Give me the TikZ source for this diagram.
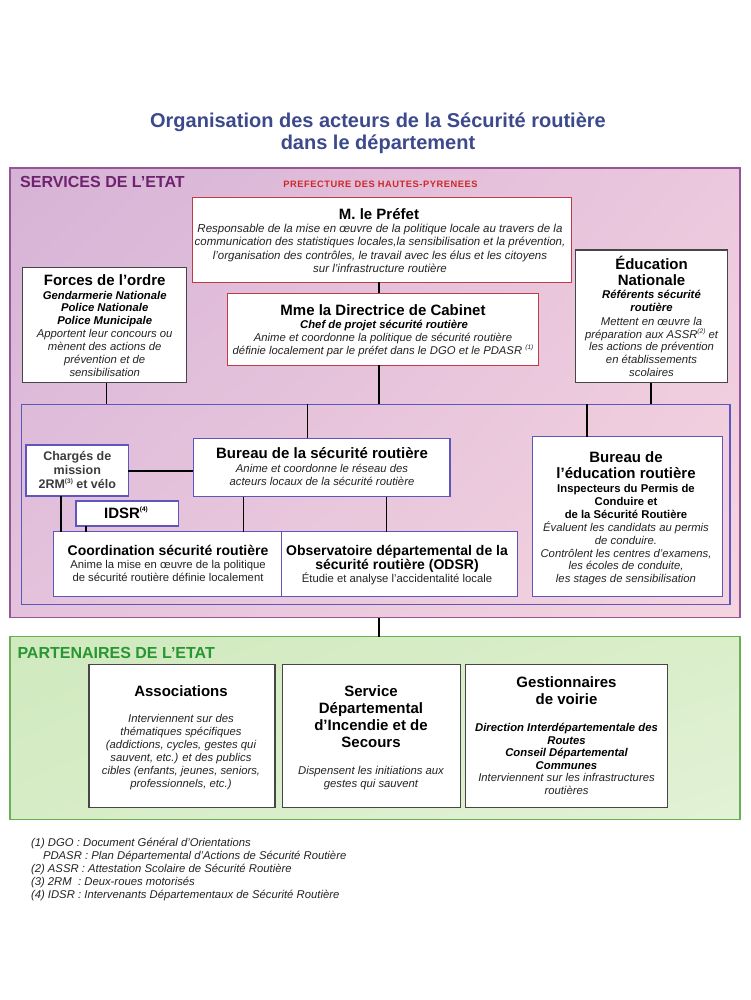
\documentclass[tikz,border=0pt]{standalone}
\usepackage{fontspec}
\usetikzlibrary{shadings}
\setmainfont{Liberation Sans}
\definecolor{titleblue}{RGB}{60,74,140}
\definecolor{servtxt}{RGB}{110,35,110}
\definecolor{servborder}{RGB}{150,85,150}
\definecolor{prefred}{RGB}{205,40,40}
\definecolor{redborder}{RGB}{190,60,70}
\definecolor{grayborder}{RGB}{70,70,70}
\definecolor{blueborder}{RGB}{95,85,190}
\definecolor{parttxt}{RGB}{40,150,50}
\definecolor{partborder}{RGB}{105,175,85}
\definecolor{tg}{RGB}{35,35,35}
\definecolor{dg}{RGB}{60,60,60}
\definecolor{sUL}{RGB}{214,178,214}
\definecolor{sUR}{RGB}{236,200,222}
\definecolor{sLL}{RGB}{228,194,220}
\definecolor{sLR}{RGB}{245,212,222}
\definecolor{pUL}{RGB}{208,233,190}
\definecolor{pUR}{RGB}{218,238,202}
\definecolor{pLL}{RGB}{214,236,198}
\definecolor{pLR}{RGB}{226,242,214}
\newcommand\fixls{\lineskiplimit=-1000pt\lineskip=0pt\relax}
\newcommand\fH[1]{\fontsize{15}{#1}\selectfont\bfseries\fixls}
\newcommand\fI[2]{\fontsize{#1}{#2}\selectfont\itshape\fixls}
\newcommand\fBI[2]{\fontsize{#1}{#2}\selectfont\bfseries\itshape\fixls}
\newcommand\fR[2]{\fontsize{#1}{#2}\selectfont\fixls}
\newcommand\fB[2]{\fontsize{#1}{#2}\selectfont\bfseries\fixls}
\newcommand\sups[1]{\raisebox{0.45em}{\fontsize{6.5}{6.5}\selectfont #1}}
\newcommand\tx[6][]{\node[txt,font={#5},#1] (#2) at (#3,{#4-20}) {\rule{0pt}{20pt}#6};}
\newcommand\bx[6]{\node[#2, minimum width={(#5)-(#3)}, minimum height={(#6)-(#4)}] (#1) at ({((#3)+(#5))/2},{((#4)+(#6))/2}) {};}
\begin{document}
\begin{tikzpicture}[x=1pt,y=-1pt,
  txt/.style={anchor=north, inner sep=0pt, outer sep=0pt, align=center, text=black},
  boxbase/.style={rectangle, inner sep=0pt, outer sep=0pt},
  servbox/.style={boxbase, draw=servborder, line width=1.3pt, shading=bilinear interpolation,
     upper left=sUL, upper right=sUR, lower left=sLL, lower right=sLR},
  partbox/.style={boxbase, draw=partborder, line width=1.3pt, shading=bilinear interpolation,
     upper left=pUL, upper right=pUR, lower left=pLL, lower right=pLR},
  redbox/.style={boxbase, draw=redborder, line width=1pt, fill=white},
  graybox/.style={boxbase, draw=grayborder, line width=1.2pt, fill=white},
  bluebox/.style={boxbase, draw=blueborder, line width=1.2pt, fill=white},
  blueframe/.style={boxbase, draw=blueborder, line width=1.3pt},
  conn/.style={draw=black, line width=1.5pt},
]
\useasboundingbox (0,0) rectangle (751,1000);
\fill[white] (0,0) rectangle (751,1000);

% title
\tx[text=titleblue]{title}{378}{127.3}{\fB{20}{22}}{Organisation des acteurs de la Sécurité routière\\dans le département}

% big frames
\bx{serv}{servbox}{10}{168}{740}{617.7}
\bx{part}{partbox}{10}{636.5}{740}{819.3}
\bx{ddt}{blueframe}{21.7}{404.3}{730}{604.3}

\node[anchor=base west, inner sep=0pt, font=\fB{16}{18}, text=servtxt] (servlbl) at (20,188) {SERVICES DE L’ETAT};
\node[anchor=base, inner sep=0pt, font={\fontsize{9.3}{10}\selectfont\bfseries\addfontfeatures{LetterSpace=6}}, text=prefred] (preflbl) at (380.5,188) {PREFECTURE DES HAUTES-PYRENEES};
\node[anchor=base west, inner sep=0pt, font=\fB{16}{18}, text=parttxt] (partlbl) at (17.3,658.3) {PARTENAIRES DE L’ETAT};

% boxes
\bx{prefet}{redbox}{192.7}{197.3}{571.7}{282.3}
\bx{forces}{graybox}{22.7}{267.7}{186.7}{382.7}
\bx{dircab}{redbox}{227.3}{293.3}{538.3}{365}
\bx{educ}{graybox}{575.7}{250}{727.3}{382.7}
\bx{charges}{bluebox}{26}{445}{128.3}{496}
\bx{bsr}{bluebox}{193.3}{438.3}{450}{496.7}
\bx{idsr}{bluebox}{76}{501}{178.3}{526}
\bx{coord}{bluebox}{53.3}{531.7}{281.7}{596.7}
\bx{odsr}{bluebox}{281.7}{531.7}{517.3}{596.5}
\bx{ber}{bluebox}{532.3}{436.7}{722.7}{596.7}
\bx{assoc}{graybox}{89}{664.3}{275}{807.7}
\bx{sdis}{graybox}{282.7}{664.3}{460.7}{807.7}
\bx{gest}{graybox}{465.7}{664.3}{667.7}{807.5}

% connectors
\coordinate (xmain) at (379,0);
\coordinate (xforces) at (106.7,0);
\coordinate (xeduc) at (651,0);
\coordinate (xbsr) at (307.3,0);
\coordinate (xber) at (587,0);
\coordinate (ychg) at (0,471);
\coordinate (xchg) at (61,0);
\coordinate (xidsr) at (86,0);
\coordinate (xbsrA) at (243.3,0);
\coordinate (xbsrB) at (386.7,0);
\draw[conn] (prefet.south -| xmain) -- (dircab.north -| xmain);
\draw[conn] (dircab.south -| xmain) -- (ddt.north -| xmain);
\draw[conn] (forces.south -| xforces) -- (ddt.north -| xforces);
\draw[conn] (educ.south -| xeduc) -- (ddt.north -| xeduc);
\draw[conn] (ddt.north -| xbsr) -- (bsr.north -| xbsr);
\draw[conn] (ddt.north -| xber) -- (ber.north -| xber);
\draw[conn, line width=1.2pt] (charges.east |- ychg) -- (bsr.west |- ychg);
\draw[conn] (charges.south -| xchg) -- (coord.north -| xchg);
\draw[conn] (idsr.south -| xidsr) -- (coord.north -| xidsr);
\draw[conn] (bsr.south -| xbsrA) -- (coord.north -| xbsrA);
\draw[conn] (bsr.south -| xbsrB) -- (odsr.north -| xbsrB);
\draw[conn] (serv.south -| xmain) -- (part.north -| xmain);

% texts: Prefet
\tx{prefT}{379}{220}{\fH{16}}{M. le Préfet}
\tx[text=tg]{prefI}{380}{232.5}{\fI{11.5}{13.3}}{Responsable de la mise en œuvre de la politique locale au travers de la\\communication des statistiques locales,la sensibilisation et la prévention,\\l’organisation des contrôles, le travail avec les élus et les citoyens\\sur l’infrastructure routière}

% Forces
\tx{forT}{104.7}{285.5}{\fH{16}}{Forces de l’ordre}
\tx{forB}{104.7}{299.3}{\fBI{11.3}{12.6}}{Gendarmerie Nationale\\Police Nationale\\Police Municipale}
\tx[text=tg]{forI}{104.7}{337.3}{\fI{11.3}{13}}{Apportent leur concours ou\\mènent des actions de\\prévention et de\\sensibilisation}

% Directrice
\tx{dirT}{383}{315}{\fH{16}}{Mme la Directrice de Cabinet}
\tx{dirB}{384}{328}{\fBI{11.3}{12}}{Chef de projet sécurité routière}
\tx[text=tg]{dirI}{383}{341.3}{\fI{11.3}{13.3}}{Anime et coordonne la politique de sécurité routière\\définie localement par le préfet dans le DGO et le PDASR \sups{(1)}}

% Education nationale
\tx{eduT}{651.5}{269}{\fH{16.5}}{Éducation\\Nationale}
\tx{eduB}{651.5}{298.3}{\fBI{11.3}{12.7}}{Référents sécurité\\routière}
\tx[text=tg]{eduI}{651.5}{325.3}{\fI{11.3}{12.8}}{Mettent en œuvre la\\préparation aux ASSR\sups{(2)} et\\les actions de prévention\\en établissements\\scolaires}

% Charges de mission
\tx[text=dg]{chgT}{77.3}{460.5}{\fB{12.5}{14.2}}{Chargés de\\mission\\2RM\sups{(3)} et vélo}

% Bureau securite routiere
\tx{bsrT}{322}{458.3}{\fH{16}}{Bureau de la sécurité routière}
\tx[text=tg]{bsrI}{322}{472.5}{\fI{11.3}{12.8}}{Anime et coordonne le réseau des\\acteurs locaux de la sécurité routière}

% IDSR
\tx{idsrT}{126}{518.3}{\fH{16}}{IDSR\sups{(4)}}

% Coordination
\tx{coT}{168}{555.5}{\fB{14}{15}}{Coordination sécurité routière}
\tx[text=tg]{coR}{168}{568.2}{\fR{11.3}{13.4}}{Anime la mise en œuvre de la politique\\de sécurité routière définie localement}

% Observatoire
\tx{obT}{397}{555.5}{\fB{14}{14}}{Observatoire départemental de la\\sécurité routière (ODSR)}
\tx[text=tg]{obR}{397}{582.3}{\fR{11.3}{12}}{Étudie et analyse l’accidentalité locale}

% Bureau education routiere
\tx{berT}{626}{462.5}{\fH{16.3}}{Bureau de\\l’éducation routière}
\tx{berB}{626}{492.5}{\fB{11.3}{13}}{Inspecteurs du Permis de\\Conduire et\\de la Sécurité Routière}
\tx[text=tg]{berI}{626}{531.5}{\fI{11.3}{12.8}}{Évaluent les candidats au permis\\de conduire.\\Contrôlent les centres d’examens,\\les écoles de conduite,\\les stages de sensibilisation}

% Associations
\tx{asT}{181}{696.7}{\fH{16}}{Associations}
\tx[text=tg]{asI}{181}{722.5}{\fI{11.3}{13}}{Interviennent sur des\\thématiques spécifiques\\(addictions, cycles, gestes qui\\sauvent, etc.) et des publics\\cibles (enfants, jeunes, seniors,\\professionnels, etc.)}

% SDIS
\tx{sdT}{371}{696.7}{\fH{16.9}}{Service\\Départemental\\d’Incendie et de\\Secours}
\tx[text=tg]{sdI}{371}{774.3}{\fI{11.3}{13}}{Dispensent les initiations aux\\gestes qui sauvent}

% Gestionnaires
\tx{geT}{566.5}{687.8}{\fH{16.7}}{Gestionnaires\\de voirie}
\tx{geB}{566.5}{731.9}{\fBI{11.3}{12.4}}{Direction Interdépartementale des\\Routes\\Conseil Départemental\\Communes}
\tx[text=tg]{geI}{566.5}{781.2}{\fI{11.3}{13.3}}{Interviennent sur les infrastructures\\routières}

% footnotes
\tx[anchor=north west, align=left, text=tg]{notes}{31}{846.5}{\fI{11.3}{13}}{(1) DGO : Document Général d'Orientations\\\hspace*{12pt}PDASR : Plan Départemental d'Actions de Sécurité Routière\\(2) ASSR : Attestation Scolaire de Sécurité Routière\\(3) 2RM \ : Deux-roues motorisés\\(4) IDSR : Intervenants Départementaux de Sécurité Routière}
\end{tikzpicture}
\end{document}
